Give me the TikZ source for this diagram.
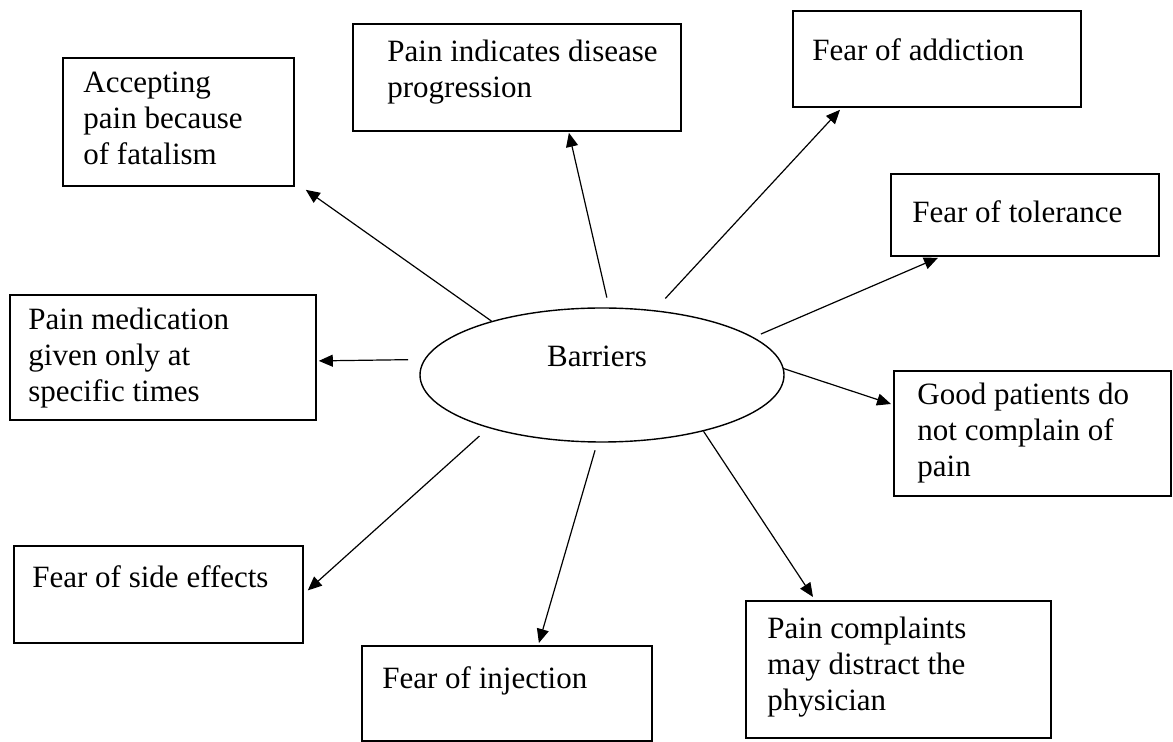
\documentclass[tikz,border=0pt]{standalone}
\usepackage{fontspec}
\setmainfont{Liberation Serif}
\usepackage{tikz}
\usetikzlibrary{arrows.meta,shapes.geometric,positioning}
\tikzset{
  box/.style={draw,line width=0.9pt,anchor=north west,inner sep=0pt},
  txt/.style={anchor=north west,inner sep=0pt,align=left,font=\fontsize{15.5}{18}\selectfont,execute at begin node=\strut},
  arr/.style={line width=0.6pt,-{Triangle[length=7pt,width=6pt]}}
}

\begin{document}
\begin{tikzpicture}[x=0.5pt,y=-0.5pt]
  \useasboundingbox (0,0) rectangle (1173,742);
  \node[ellipse,draw,line width=0.7pt,minimum width=182pt,minimum height=67pt,inner sep=0pt] (bar) at (602,375) {};
  \node[inner sep=0pt,anchor=base,font=\fontsize{15.5}{18}\selectfont] (barlbl) at (597,367) {Barriers};
  \foreach \nm/\x/\y/\w/\h/\dx/\dy/\t in {
    acc/62/57/231/128/21/15/Accepting\\pain because\\of fatalism,
    pid/352/23/328/107/35/17/Pain indicates disease\\progression,
    add/792/10/288/96/20/25/Fear of addiction,
    tol/890/173/268/82/22/24/Fear of tolerance,
    med/9/294/306/125/19/14/Pain medication\\given only at\\specific times,
    good/893/370/277/125/24/13/Good patients do\\not complain of\\pain,
    side/13/545/289/97/19/17/Fear of side effects,
    inj/361/645/290/95/21/18/Fear of injection,
    phy/745/600/305/137/22/17/Pain complaints\\may distract the\\physician}{
    \node[box,minimum width=\w*0.5pt,minimum height=\h*0.5pt] (\nm) at (\x,\y) {};
    \node[txt] (\nm-t) at ([shift={(\dx,\dy)}]\nm.north west) {\t};
  }
  \draw[arr] (bar.154) -- ([shift={(11,3)}]acc.south east);
  \draw[arr,shorten <=5pt] (bar.84) -- ([shift={(52,1)}]pid.south);
  \draw[arr,shorten <=8pt] (bar.51) -- ([shift={(48,2)}]add.south west);
  \draw[arr,shorten <=4pt] (bar.14) -- ([shift={(48,1)}]tol.south west);
  \draw[arr,shorten <=8pt] (bar.175) -- ([shift={(2,3.5)}]med.east);
  \draw[arr] (bar.2) -- ([shift={(-2,34)}]good.north west);
  \draw[arr,shorten <=6pt] (bar.205) -- ([shift={(4,-4)}]side.east);
  \draw[arr,shorten <=4pt] (bar.266) -- ([shift={(32,-2)}]inj.north);
  \draw[arr] (bar.331) -- ([shift={(68,-3)}]phy.north west);
\end{tikzpicture}
\end{document}
